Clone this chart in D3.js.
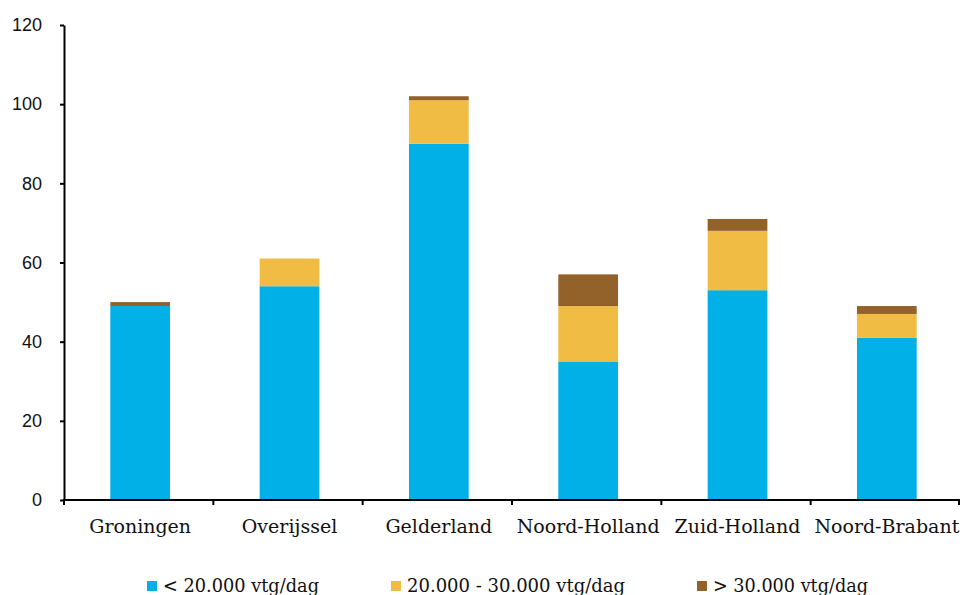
<!DOCTYPE html>
<html>
<head>
<meta charset="utf-8">
<script src="https://cdn.jsdelivr.net/npm/d3@7"></script>
<style>
  html, body { margin: 0; padding: 0; background: #fff; }
  svg { display: block; }
</style>
</head>
<body>
<svg id="chart" width="962" height="595"></svg>
<script>
// Provinces on the category axis
const provinces = ["Groningen", "Overijssel", "Gelderland", "Noord-Holland", "Zuid-Holland", "Noord-Brabant"];
// Counts per traffic-intensity class
const lowTraffic  = [49, 54, 90, 35, 53, 41];   // < 20.000 vtg/dag
const midTraffic  = [0, 7, 11, 14, 15, 6];      // 20.000 - 30.000 vtg/dag
const highTraffic = [1, 0, 1, 8, 3, 2];         // > 30.000 vtg/dag
const seriesNames = ["< 20.000 vtg/dag", "20.000 - 30.000 vtg/dag", "> 30.000 vtg/dag"];
const seriesColors = ["#00b0e6", "#f0bc44", "#93622a"];
const yTicks = [0, 20, 40, 60, 80, 100, 120];

const svg = d3.select("#chart");
const margin = { left: 64, right: 2, top: 25, bottom: 95 };
const width = 962, height = 595;

const rows = provinces.map((p, i) => ({
  province: p, s0: lowTraffic[i], s1: midTraffic[i], s2: highTraffic[i]
}));
const stacked = d3.stack().keys(["s0", "s1", "s2"])(rows);

const x = d3.scaleBand().domain(provinces)
  .range([margin.left + 1.5, 961.5]).paddingInner(0.6).paddingOuter(0.3);
const xEdges = d3.scaleLinear().domain([0, provinces.length]).range([margin.left, 960]);
const y = d3.scaleLinear().domain([0, 120]).range([height - margin.bottom, margin.top]);

// Stacked bars
svg.append("g").selectAll("g").data(stacked).join("g")
  .attr("fill", (d, i) => seriesColors[i])
  .selectAll("rect").data(d => d.filter(s => s[1] - s[0] > 0)).join("rect")
  .attr("x", d => x(d.data.province))
  .attr("width", x.bandwidth())
  .attr("y", d => y(d[1]))
  .attr("height", d => y(d[0]) - y(d[1]));

// Y axis
const yAxis = svg.append("g").attr("transform", `translate(${margin.left},0)`)
  .call(d3.axisLeft(y).tickValues(yTicks).tickSize(4).tickPadding(18).tickSizeOuter(0));
yAxis.select(".domain").attr("stroke", "#000").attr("stroke-width", 2);
yAxis.selectAll(".tick line").attr("stroke", "#000").attr("stroke-width", 2);
yAxis.selectAll("text").attr("font-family", "'Liberation Sans', Arial, sans-serif")
  .attr("font-size", 18).attr("fill", "#111");

// X axis: baseline with tick marks at the category boundaries
const xBase = y(0);
const xAxis = svg.append("g").attr("transform", `translate(0,${xBase})`);
xAxis.append("line").attr("x1", margin.left - 1).attr("x2", 960)
  .attr("stroke", "#000").attr("stroke-width", 2);
xAxis.selectAll("line.edge").data(d3.range(provinces.length + 1)).join("line")
  .attr("class", "edge")
  .attr("x1", d => xEdges(d) - (d === provinces.length ? 1 : 0))
  .attr("x2", d => xEdges(d) - (d === provinces.length ? 1 : 0))
  .attr("y1", 0).attr("y2", 5)
  .attr("stroke", "#000").attr("stroke-width", 2);
xAxis.selectAll("text").data(provinces).join("text")
  .attr("x", d => x(d) + x.bandwidth() / 2)
  .attr("y", 33)
  .attr("text-anchor", "middle")
  .attr("font-family", "'DejaVu Serif', serif")
  .attr("font-size", 19)
  .attr("fill", "#111")
  .text(d => d);

// Legend
const legendX = [147, 391, 697];
const legendTextW = [156, 218, 155];
const legend = svg.append("g");
seriesNames.forEach((name, i) => {
  legend.append("rect").attr("x", legendX[i]).attr("y", 581)
    .attr("width", 10).attr("height", 10).attr("fill", seriesColors[i]);
  legend.append("text").attr("x", legendX[i] + 16).attr("y", 592)
    .attr("font-family", "'DejaVu Serif', serif")
    .attr("font-size", 19)
    .attr("textLength", legendTextW[i])
    .attr("lengthAdjust", "spacingAndGlyphs")
    .attr("fill", "#111")
    .text(name);
});
</script>
</body>
</html>
